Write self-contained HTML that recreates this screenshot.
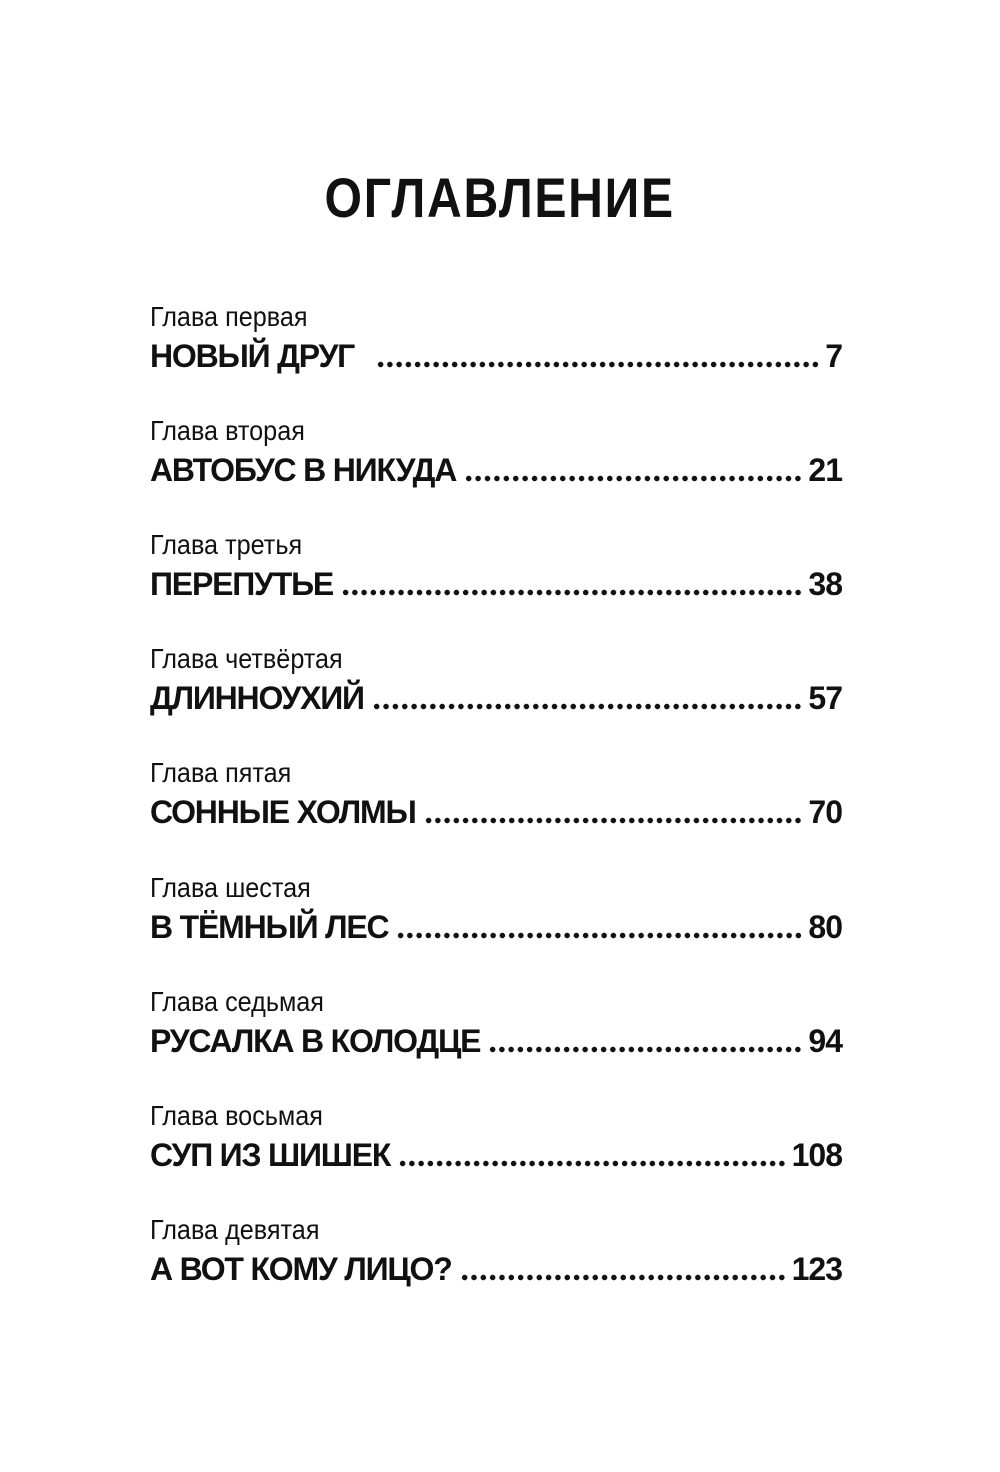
<!DOCTYPE html>
<html><head><meta charset="utf-8"><style>
body{margin:0;width:1000px;height:1472px;background:#fff;position:relative;overflow:hidden;font-family:"Liberation Sans",sans-serif;color:#111}
.h{position:absolute;left:0;width:1000px;top:170px;text-align:center;font-weight:bold;font-size:56px;line-height:1}
.h span{display:inline-block;transform:scaleX(0.86);letter-spacing:2px}
.s{position:absolute;left:150px;font-size:28px;line-height:1;transform:scaleX(0.9);transform-origin:left}
.r{position:absolute;left:150px;width:692px;display:flex;align-items:flex-end;font-weight:bold;font-size:32px;line-height:1;height:32px}
.t{white-space:nowrap;letter-spacing:-1.2px}
.d{flex:1;height:7px;margin:0 5px 4px 8px;background:radial-gradient(circle at center,#111 2.5px,transparent 3px);background-repeat:round no-repeat;background-size:9.3px 7px}
.n{white-space:nowrap;letter-spacing:-1px}
</style></head><body>
<div class="h"><span>ОГЛАВЛЕНИЕ</span></div>

<div class="s" style="top:303px">Глава первая</div>
<div class="r" style="top:340px"><span class="t">НОВЫЙ ДРУГ</span><span class="d" style="margin-left:22px"></span><span class="n">7</span></div>

<div class="s" style="top:417px">Глава вторая</div>
<div class="r" style="top:454px"><span class="t">АВТОБУС В НИКУДА</span><span class="d"></span><span class="n">21</span></div>

<div class="s" style="top:531px">Глава третья</div>
<div class="r" style="top:568px"><span class="t">ПЕРЕПУТЬЕ</span><span class="d"></span><span class="n">38</span></div>

<div class="s" style="top:645px">Глава четвёртая</div>
<div class="r" style="top:682px"><span class="t">ДЛИННОУХИЙ</span><span class="d"></span><span class="n">57</span></div>

<div class="s" style="top:759px">Глава пятая</div>
<div class="r" style="top:796px"><span class="t">СОННЫЕ ХОЛМЫ</span><span class="d"></span><span class="n">70</span></div>

<div class="s" style="top:874px">Глава шестая</div>
<div class="r" style="top:911px"><span class="t">В ТЁМНЫЙ ЛЕС</span><span class="d"></span><span class="n">80</span></div>

<div class="s" style="top:988px">Глава седьмая</div>
<div class="r" style="top:1025px"><span class="t">РУСАЛКА В КОЛОДЦЕ</span><span class="d"></span><span class="n">94</span></div>

<div class="s" style="top:1102px">Глава восьмая</div>
<div class="r" style="top:1139px"><span class="t">СУП ИЗ ШИШЕК</span><span class="d"></span><span class="n">108</span></div>

<div class="s" style="top:1216px">Глава девятая</div>
<div class="r" style="top:1253px"><span class="t">А ВОТ КОМУ ЛИЦО?</span><span class="d"></span><span class="n">123</span></div>
</body></html>
